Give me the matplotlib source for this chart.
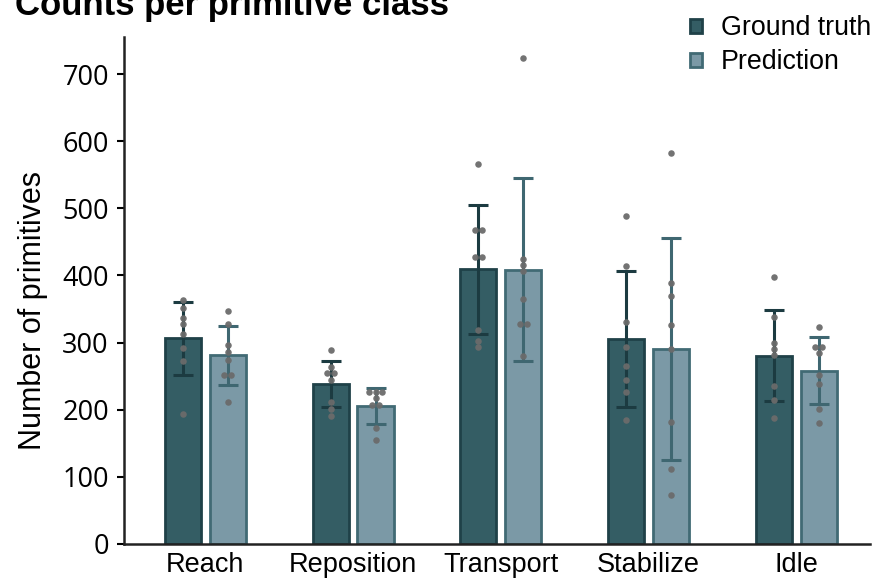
import numpy as np
import matplotlib.pyplot as plt

plt.rcParams['font.family'] = ['Liberation Sans', 'DejaVu Sans']

# Data #
categories = ["Reach", "Reposition", "Transport", "Stabilize", "Idle"]
series_names = ["Ground truth", "Prediction"]

gt_counts = [
    [364, 352, 336, 327, 313, 292, 272, 193],
    [289, 263, 254, 254, 244, 212, 201, 190],
    [566, 467, 467, 428, 428, 319, 303, 293],
    [488, 414, 330, 293, 265, 244, 227, 185],
    [397, 338, 300, 290, 282, 236, 214, 187],
]
pred_counts = [
    [347, 328, 296, 286, 274, 252, 252, 212],
    [227, 227, 227, 218, 207, 207, 173, 155],
    [724, 424, 415, 406, 365, 328, 328, 280],
    [582, 388, 369, 326, 291, 182, 112, 73],
    [323, 293, 293, 285, 251, 239, 201, 180],
]
y_ticks = [0, 100, 200, 300, 400, 500, 600, 700]

fill_colors = ["#345d64", "#7b99a6"]
edge_colors = ["#1f4148", "#416a74"]
err_colors = ["#1c3b41", "#3f6771"]

fig = plt.figure(figsize=(8.83, 5.84), dpi=100)
ax = fig.add_axes([0.1405, 0.0685, 0.845, 0.868])

x = np.arange(len(categories))
offsets = [-0.152, 0.152]
width = 0.245

for k, data in enumerate([gt_counts, pred_counts]):
    means = [np.mean(d) for d in data]
    sds = [np.std(d, ddof=1) for d in data]
    pos = x + offsets[k]
    ax.bar(pos, means, width, color=fill_colors[k], edgecolor=edge_colors[k],
           linewidth=2, label=series_names[k], zorder=2)
    ax.errorbar(pos, means, yerr=sds, fmt="none", ecolor=err_colors[k],
                elinewidth=2.2, capsize=7.5, capthick=2.2, zorder=3)
    # points, spread sideways when values coincide
    for p, d in zip(pos, data):
        vals, cnts = np.unique(d, return_counts=True)
        for v, c in zip(vals, cnts):
            xs = p + (np.arange(c) - (c - 1) / 2) * 0.045
            ax.scatter(xs, [v] * c, s=22, color="#6b6b6b", alpha=0.95,
                       linewidths=0, zorder=4)

ax.set_xlim(-0.55, 4.5)
ax.set_ylim(0, 755)
ax.set_xticks(x)
ax.set_xticklabels(categories, fontsize=19.5)
ax.set_yticks(y_ticks)
ax.set_yticklabels([str(t) for t in y_ticks], fontsize=19.5, family="Open Sans")
ax.tick_params(axis="x", length=0, pad=6)
ax.tick_params(axis="y", length=5, width=1.5, pad=6)
ax.set_ylabel("Number of primitives", fontsize=22)
ax.yaxis.set_label_coords(-0.102, 0.46)
for s in ["top", "right"]:
    ax.spines[s].set_visible(False)
for s in ["left", "bottom"]:
    ax.spines[s].set_linewidth(1.8)
    ax.spines[s].set_color("#222222")

fig.text(0.017, 1.018, "Counts per primitive class", fontsize=25,
         fontweight="bold", va="top", ha="left")

leg = fig.legend(loc="upper right", bbox_to_anchor=(1.014, 1.015), frameon=False,
                 fontsize=19.3, handlelength=0.45, handleheight=0.45,
                 handletextpad=0.7, labelspacing=0.3)

plt.savefig("out.png", dpi=100)
